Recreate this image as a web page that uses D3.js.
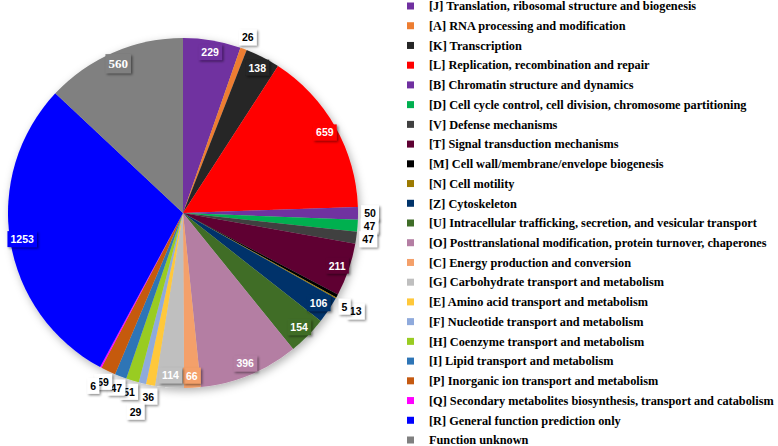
<!DOCTYPE html>
<html>
<head>
<meta charset="utf-8">
<script src="https://cdn.jsdelivr.net/npm/d3@7"></script>
<style>
  html, body { margin: 0; padding: 0; background: #fff; }
  svg { display: block; }
</style>
</head>
<body>
<svg id="chart" width="778" height="446"></svg>
<script>
// ---- data ----
const codes = ["J","A","K","L","B","D","V","T","M","N","Z","U","O","C","G","E","F","H","I","P","Q","R","X"];
const categories = [
  "[J] Translation, ribosomal structure and biogenesis",
  "[A] RNA processing and modification",
  "[K] Transcription",
  "[L] Replication, recombination and repair",
  "[B] Chromatin structure and dynamics",
  "[D] Cell cycle control, cell division, chromosome partitioning",
  "[V] Defense mechanisms",
  "[T] Signal transduction mechanisms",
  "[M] Cell wall/membrane/envelope biogenesis",
  "[N] Cell motility",
  "[Z] Cytoskeleton",
  "[U] Intracellular trafficking, secretion, and vesicular transport",
  "[O] Posttranslational modification, protein turnover, chaperones",
  "[C] Energy production and conversion",
  "[G] Carbohydrate transport and metabolism",
  "[E] Amino acid transport and metabolism",
  "[F] Nucleotide transport and metabolism",
  "[H] Coenzyme transport and metabolism",
  "[I] Lipid transport and metabolism",
  "[P] Inorganic ion transport and metabolism",
  "[Q] Secondary metabolites biosynthesis, transport and catabolism",
  "[R] General function prediction only",
  "Function unknown"
];
const values = [229, 26, 138, 659, 50, 47, 47, 211, 13, 5, 106, 154, 396, 66, 114, 36, 29, 51, 47, 59, 6, 1253, 560];
const colors = ["#7030A0","#ED7D31","#262626","#FF0000","#7030A0","#00B050","#404040","#5E0032",
                "#000000","#9C7A00","#00336A","#3F6D28","#B47EA3","#F4A06A","#BFBFBF","#FFC83A",
                "#8FAADC","#99CC22","#2E75B6","#C55A11","#FF00FF","#0000FF","#808080"];
// labels drawn outside the pie (white boxes)
const outsideCodes = ["A","B","D","V","M","N","E","F","H","I","P","Q"];

// ---- layout ----
const W = 778, H = 446;
const cx = 183, cy = 213, R = 175;
const rIn = 163, rOut = 187;
const labelNudge = { F: [-4, 17], Q: [-2, 8], M: [8, 10], N: [-2, 3] };

const svg = d3.select("#chart");
const defs = svg.append("defs");
const f1 = defs.append("filter").attr("id","pieShadow").attr("x","-20%").attr("y","-20%").attr("width","140%").attr("height","140%");
f1.append("feDropShadow").attr("dx",2).attr("dy",3).attr("stdDeviation",4).attr("flood-color","#000").attr("flood-opacity",0.3);
const f2 = defs.append("filter").attr("id","boxShadow").attr("x","-30%").attr("y","-30%").attr("width","170%").attr("height","170%");
f2.append("feDropShadow").attr("dx",1.5).attr("dy",1.5).attr("stdDeviation",1.2).attr("flood-color","#000").attr("flood-opacity",0.45);

const data = values.map((v,i) => ({code: codes[i], name: categories[i], value: v, color: colors[i]}));
const pie = d3.pie().sort(null).value(d => d.value).startAngle(0).endAngle(2*Math.PI);
const arcs = pie(data);
const arc = d3.arc().innerRadius(0).outerRadius(R);

const g = svg.append("g").attr("transform", `translate(${cx},${cy})`);
const pieG = g.append("g").attr("filter","url(#pieShadow)");
pieG.selectAll("path").data(arcs).join("path")
  .attr("d", arc)
  .attr("fill", d => d.data.color);

// labels
const lblG = g.append("g");
arcs.forEach(a => {
  const isOut = outsideCodes.includes(a.data.code);
  const r = isOut ? rOut : rIn;
  const mid = (a.startAngle + a.endAngle) / 2;
  let x = r * Math.sin(mid), y = -r * Math.cos(mid);
  const nd = labelNudge[a.data.code];
  if (nd) { x += nd[0]; y += nd[1]; }
  const serif = a.data.code === "X";
  const grp = lblG.append("g").attr("transform", `translate(${x},${y})`);
  const rect = grp.append("rect").attr("filter","url(#boxShadow)")
    .attr("fill", isOut ? "#fff" : a.data.color);
  const t = grp.append("text")
    .attr("text-anchor","middle").attr("dy","0.36em")
    .attr("font-family", serif ? "'Liberation Serif', 'Times New Roman', serif" : "'Liberation Sans', Arial, sans-serif")
    .attr("font-weight","bold")
    .attr("font-size", serif ? 13 : 10.5)
    .attr("fill", isOut ? "#000" : "#fff")
    .text(a.data.value);
  const bb = t.node().getBBox();
  const pw = 3, ph = 2;
  rect.attr("x", bb.x - pw).attr("y", bb.y - ph).attr("width", bb.width + 2*pw).attr("height", bb.height + 2*ph);
});

// legend
const legY = d3.scalePoint().domain(categories).range([6, 440]);
const leg = svg.append("g");
const rows = leg.selectAll("g").data(data).join("g")
  .attr("transform", d => `translate(0,${legY(d.name)})`);
rows.append("rect").attr("x", 407).attr("y", -3.5).attr("width", 7).attr("height", 7).attr("fill", d => d.color);
rows.append("text").attr("x", 429).attr("dy", "0.35em")
  .attr("font-family", "'Liberation Serif', 'Times New Roman', serif")
  .attr("font-weight", "bold").attr("font-size", 12.3).attr("fill", "#000")
  .text(d => d.name);
</script>
</body>
</html>
